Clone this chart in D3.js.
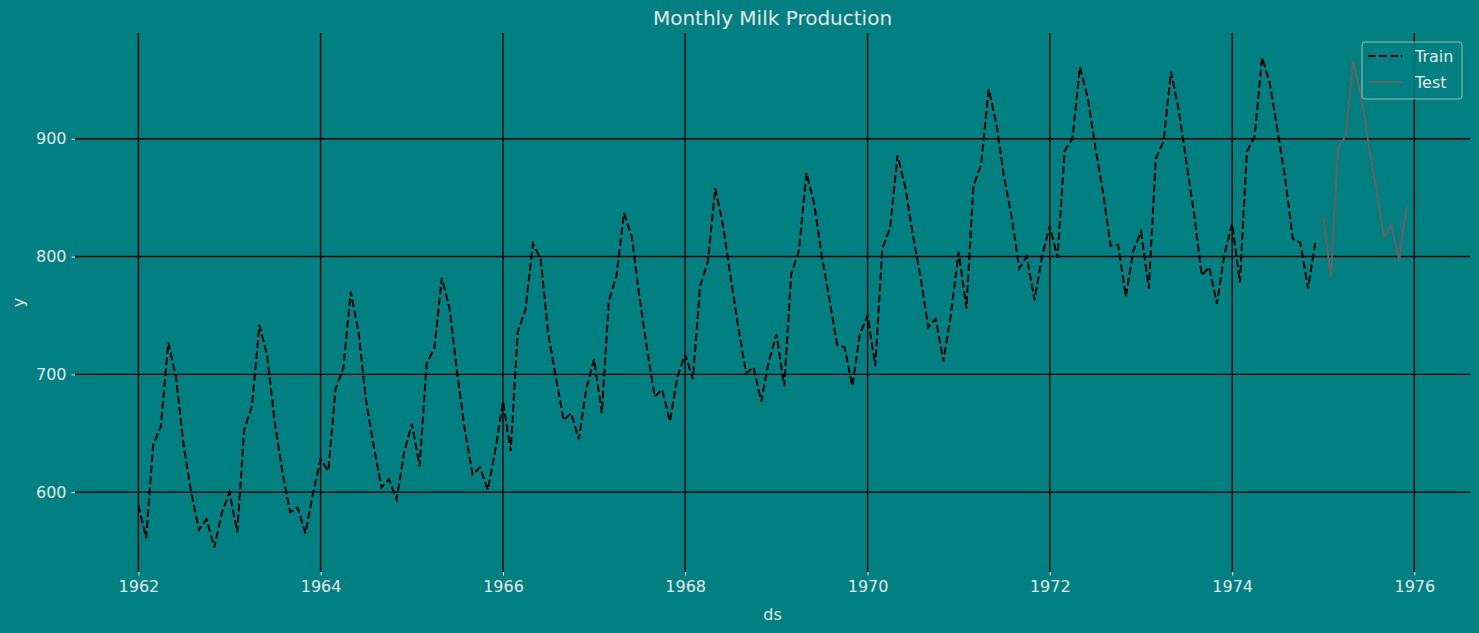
<html>
<head>
<script src="https://d3js.org/d3.v7.min.js"></script>
<style>
  body { margin: 0; background: #008080; }
  text { font-family: "DejaVu Sans", sans-serif; fill: #e6e6e6; }
</style>
</head>
<body>
<script>
// monthly milk production, pounds per cow
var years = [1962, 1963, 1964, 1965, 1966, 1967, 1968, 1969, 1970, 1971, 1972, 1973, 1974, 1975];
var milk1962 = [589, 561, 640, 656, 727, 697, 640, 599, 568, 577, 553, 582];
var milk1963 = [600, 566, 653, 673, 742, 716, 660, 617, 583, 587, 565, 598];
var milk1964 = [628, 618, 688, 705, 770, 736, 678, 639, 604, 611, 594, 634];
var milk1965 = [658, 622, 709, 722, 782, 756, 702, 653, 615, 621, 602, 635];
var milk1966 = [677, 635, 736, 755, 811, 798, 735, 697, 661, 667, 645, 688];
var milk1967 = [713, 667, 762, 784, 837, 817, 767, 722, 681, 687, 660, 698];
var milk1968 = [717, 696, 775, 796, 858, 826, 783, 740, 701, 706, 677, 711];
var milk1969 = [734, 690, 785, 805, 871, 845, 801, 764, 725, 723, 690, 734];
var milk1970 = [750, 707, 807, 824, 886, 859, 819, 783, 740, 747, 711, 751];
var milk1971 = [804, 756, 860, 878, 942, 913, 869, 834, 790, 800, 763, 800];
var milk1972 = [826, 799, 890, 900, 961, 935, 894, 855, 809, 810, 766, 805];
var milk1973 = [821, 773, 883, 898, 957, 924, 881, 837, 784, 791, 760, 802];
var milk1974 = [828, 778, 889, 902, 969, 947, 908, 867, 815, 812, 773, 813];
var milk1975 = [834, 782, 892, 903, 966, 937, 896, 858, 817, 827, 797, 843];
var xTicks = [1962, 1964, 1966, 1968, 1970, 1972, 1974, 1976];
var yTicks = [600, 700, 800, 900];

var w = 1479, h = 633;
var mLeft = 75, mRight = 1470, mTop = 33, mBottom = 572;
var testColor = '#6a6060';

var all = [milk1962, milk1963, milk1964, milk1965, milk1966, milk1967, milk1968,
           milk1969, milk1970, milk1971, milk1972, milk1973, milk1974, milk1975];
var data = [];
all.forEach(function(vals, i){
  vals.forEach(function(v, m){
    data.push({ds: new Date(years[i], m, 1), y: v});
  });
});
var train = data.filter(function(d){ return d.ds.getFullYear() < 1975; });
var test = data.filter(function(d){ return d.ds.getFullYear() >= 1975; });

// matplotlib style 5% margins
var t0 = d3.min(data, function(d){ return d.ds; }).getTime();
var t1 = d3.max(data, function(d){ return d.ds; }).getTime();
var y0 = d3.min(data, function(d){ return d.y; });
var y1 = d3.max(data, function(d){ return d.y; });
var xScale = d3.scaleTime()
  .domain([new Date(t0 - 0.05 * (t1 - t0)), new Date(t1 + 0.05 * (t1 - t0))])
  .range([mLeft, mRight]);
var yScale = d3.scaleLinear()
  .domain([y0 - 0.05 * (y1 - y0), y1 + 0.05 * (y1 - y0)])
  .range([mBottom, mTop]);

var svg = d3.select('body').append('svg').attr('width', w).attr('height', h);
svg.append('rect').attr('width', w).attr('height', h).attr('fill', '#008080');

// grid
svg.append('g').selectAll('line').data(xTicks).enter().append('line')
  .attr('x1', function(d){ return xScale(new Date(d, 0, 1)); })
  .attr('x2', function(d){ return xScale(new Date(d, 0, 1)); })
  .attr('y1', mTop).attr('y2', mBottom)
  .attr('stroke', 'black').attr('stroke-width', 1.4);
svg.append('g').selectAll('line').data(yTicks).enter().append('line')
  .attr('x1', mLeft).attr('x2', mRight)
  .attr('y1', function(d){ return yScale(d); })
  .attr('y2', function(d){ return yScale(d); })
  .attr('stroke', 'black').attr('stroke-width', 1.4);

// axes
var xAxis = d3.axisBottom(xScale)
  .tickValues(xTicks.map(function(d){ return new Date(d, 0, 1); }))
  .tickFormat(d3.timeFormat('%Y')).tickSize(3.5).tickPadding(5);
var yAxis = d3.axisLeft(yScale).tickValues(yTicks).tickSize(3.5).tickPadding(5);
var gx = svg.append('g').attr('transform', 'translate(0,' + mBottom + ')').call(xAxis);
var gy = svg.append('g').attr('transform', 'translate(' + mLeft + ',0)').call(yAxis);
[gx, gy].forEach(function(g){
  g.attr('font-size', 16).attr('font-family', 'DejaVu Sans');
  g.select('.domain').remove();
  g.selectAll('line').attr('stroke', '#e6e6e6');
  g.selectAll('text').attr('fill', '#e6e6e6');
});

// lines
var line = d3.line().x(function(d){ return xScale(d.ds); }).y(function(d){ return yScale(d.y); });
svg.append('path').attr('d', line(train)).attr('fill', 'none')
  .attr('stroke', 'black').attr('stroke-width', 2).attr('stroke-dasharray', '7.7,3.3');
svg.append('path').attr('d', line(test)).attr('fill', 'none')
  .attr('stroke', testColor).attr('stroke-width', 2);

// titles
svg.append('text').attr('x', (mLeft + mRight) / 2).attr('y', 25).attr('text-anchor', 'middle')
  .attr('font-size', 20).text('Monthly Milk Production');
svg.append('text').attr('x', (mLeft + mRight) / 2).attr('y', 620).attr('text-anchor', 'middle')
  .attr('font-size', 16).text('ds');
svg.append('text').attr('transform', 'translate(24,' + ((mTop + mBottom) / 2) + ') rotate(-90)')
  .attr('text-anchor', 'middle').attr('font-size', 16).text('y');

// legend
var lg = svg.append('g').attr('transform', 'translate(1362,42)');
lg.append('rect').attr('width', 100).attr('height', 57).attr('rx', 3)
  .attr('fill', '#008080').attr('fill-opacity', 0.8)
  .attr('stroke', '#cccccc').attr('stroke-opacity', 0.8);
lg.append('line').attr('x1', 6).attr('x2', 40).attr('y1', 14).attr('y2', 14)
  .attr('stroke', 'black').attr('stroke-width', 2).attr('stroke-dasharray', '7.7,3.3');
lg.append('line').attr('x1', 6).attr('x2', 40).attr('y1', 40).attr('y2', 40)
  .attr('stroke', testColor).attr('stroke-width', 2);
lg.append('text').attr('x', 53).attr('y', 20).attr('font-size', 16).text('Train');
lg.append('text').attr('x', 53).attr('y', 46).attr('font-size', 16).text('Test');
</script>
</body>
</html>
